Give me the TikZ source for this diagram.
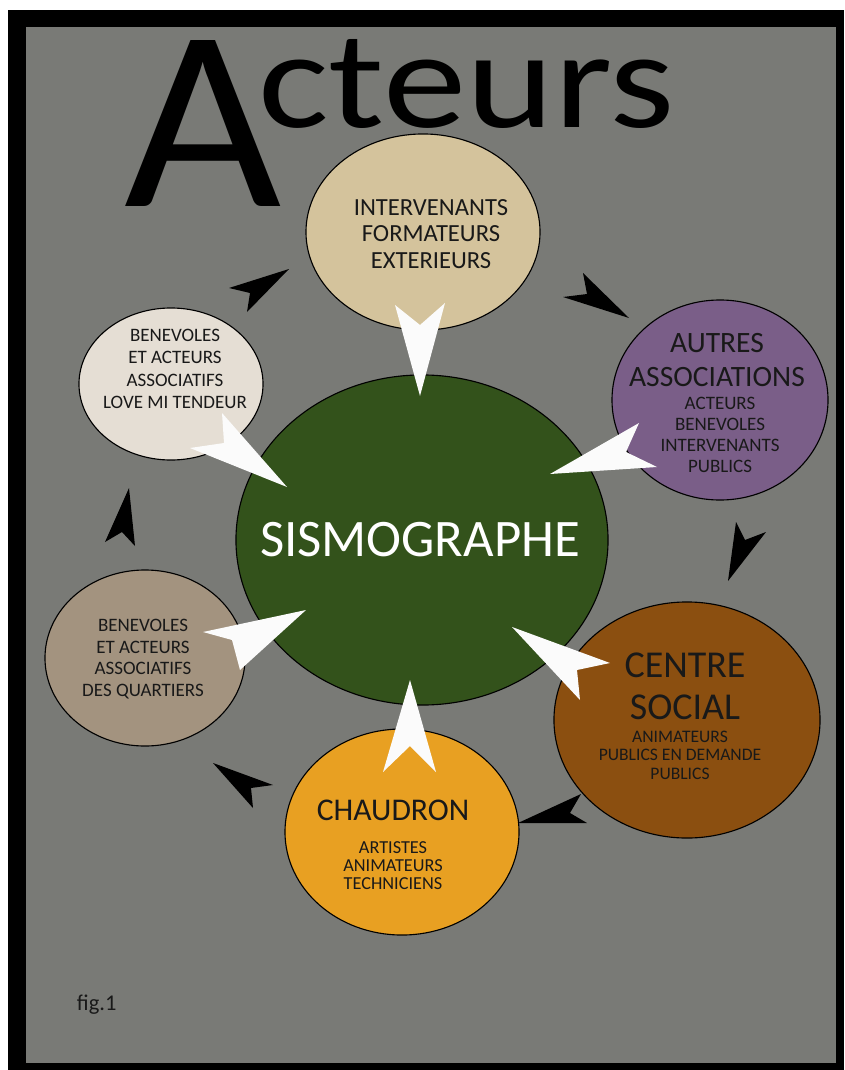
\documentclass[tikz,border=0pt]{standalone}
\usepackage{fontspec}
\setmainfont{Carlito}
\usepackage{tikz}
\usetikzlibrary{shapes}
\definecolor{bggray}{RGB}{121,122,118}
\definecolor{sandtan}{RGB}{212,195,156}
\definecolor{mauve}{RGB}{122,94,136}
\definecolor{rustbrown}{RGB}{139,79,16}
\definecolor{amber}{RGB}{232,160,34}
\definecolor{taupe}{RGB}{163,147,127}
\definecolor{linen}{RGB}{229,222,212}
\definecolor{moss}{RGB}{51,82,27}
\definecolor{ink}{RGB}{25,25,25}
\tikzstyle{bubble} = [ellipse, draw=black, line width=0.8pt, inner sep=0pt]
\tikzstyle{midtext} = [font=\fontsize{17.5}{19}\selectfont, align=center, text=ink]
\tikzstyle{smalltext} = [font=\fontsize{13.5}{15.5}\selectfont, align=center, text=ink]
\tikzstyle{bigtext} = [align=center, text=ink]
\tikzstyle{whitedart} = [fill=white!97!gray]
\tikzstyle{blackdart} = [fill=black]

\begin{document}
\begin{tikzpicture}[x=0.025cm, y=-0.025cm]
  \useasboundingbox (0,0) rectangle (844,1070);
  \fill[white] (0,0) rectangle (844,1070);
  \fill[black] (8,10) rectangle (844,1070);
  \fill[bggray] (26,27) rectangle (836,1063);

  % title
  \node[anchor=base west, inner sep=0pt, font=\fontsize{184}{184}\selectfont] (bigA) at (124,207) {\scalebox{1.05}[1]{A}};
  \node[anchor=base west, inner sep=0pt, font=\fontsize{99}{99}\selectfont] (cteurs) at (258,128) {\scalebox{1.2}[1]{cteurs}};

  % bubbles
  \node[bubble, fill=sandtan, minimum width=5.85cm, minimum height=4.9cm] (intervenants) at (423,232) {};
  \node[bubble, fill=mauve, minimum width=5.4cm, minimum height=5cm] (autres) at (720,400) {};
  \node[bubble, fill=rustbrown, minimum width=6.65cm, minimum height=5.9cm] (centre) at (687,720) {};
  \node[bubble, fill=amber, minimum width=5.85cm, minimum height=5.15cm] (chaudron) at (402,832) {};
  \node[bubble, fill=taupe, minimum width=5cm, minimum height=4.4cm] (quartiers) at (145,658) {};
  \node[bubble, fill=linen, minimum width=4.6cm, minimum height=3.8cm] (lovemi) at (171,384) {};
  \node[bubble, fill=moss, minimum width=9.3cm, minimum height=8.25cm] (sismo) at (422,540) {};

  % texts
  \node[midtext] (intervenantstxt) at (431,234) {INTERVENANTS\\FORMATEURS\\EXTERIEURS};
  \node[bigtext, font=\fontsize{21}{23.5}\selectfont] (autrestxt) at (717,360) {AUTRES\\ASSOCIATIONS};
  \node[smalltext, font=\fontsize{13.5}{15}\selectfont] (autreslist) at (720,435) {ACTEURS\\BENEVOLES\\INTERVENANTS\\PUBLICS};
  \node[bigtext, font=\fontsize{27}{30}\selectfont] (centretxt) at (685,686) {CENTRE\\SOCIAL};
  \node[smalltext, font=\fontsize{12.5}{13.2}\selectfont] (centrelist) at (680,755) {ANIMATEURS\\PUBLICS EN DEMANDE\\PUBLICS};
  \node[bigtext, font=\fontsize{22.5}{24}\selectfont] (chaudrontxt) at (393,810) {CHAUDRON};
  \node[smalltext, font=\fontsize{13}{12.8}\selectfont] (chaudronlist) at (393,866) {ARTISTES\\ANIMATEURS\\TECHNICIENS};
  \node[smalltext] (quartierstxt) at (143,659) {BENEVOLES\\ET ACTEURS\\ASSOCIATIFS\\DES QUARTIERS};
  \node[smalltext, font=\fontsize{13.5}{16}\selectfont] (lovemitxt) at (175,369) {BENEVOLES\\ET ACTEURS\\ASSOCIATIFS\\LOVE MI TENDEUR};
  \node[bigtext, text=white, font=\fontsize{37.5}{40}\selectfont] (sismotxt) at (420,540) {SISMOGRAPHE};
  \node[anchor=west, text=ink, font=\fontsize{16}{18}\selectfont] (figlabel) at (72,1005) {fig.1};

  % darts into the centre
  \fill[whitedart] (395,305) -- (420,325) -- (445,303) -- (420,396) -- cycle;
  \fill[whitedart] (550,474) -- (639,423) -- (626,452) -- (657,467) -- cycle;
  \fill[whitedart] (512,627) -- (610,663) -- (577,670) -- (580,700) -- cycle;
  \fill[whitedart] (410,680) -- (436,772) -- (410,746) -- (383,772) -- cycle;
  \fill[whitedart] (306,610) -- (240,670) -- (232,640) -- (203,632) -- cycle;
  \fill[whitedart] (287,487) -- (190,448) -- (224,443) -- (222,413) -- cycle;

  % darts round the ring
  \fill[blackdart] (289,269) -- (229,288) -- (250,293) -- (247,312) -- cycle;
  \fill[blackdart] (629,318) -- (583,273) -- (587,294) -- (563,297) -- cycle;
  \fill[blackdart] (728,581) -- (736,522) -- (745,540) -- (766,532) -- cycle;
  \fill[blackdart] (518,823) -- (581,794) -- (570,813) -- (587,823) -- cycle;
  \fill[blackdart] (213,763) -- (273,785) -- (251,788) -- (253,808) -- cycle;
  \fill[blackdart] (129,488) -- (105,542) -- (122,532) -- (135,546) -- cycle;
\end{tikzpicture}
\end{document}
